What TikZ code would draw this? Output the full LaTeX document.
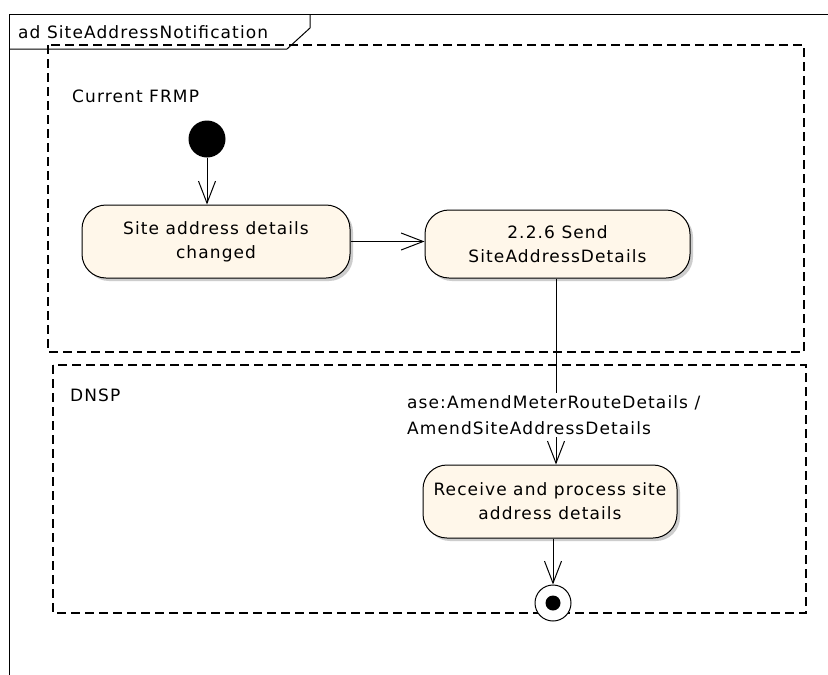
\documentclass[tikz,border=0pt]{standalone}
\usepackage{fontspec}
\setmainfont{DejaVu Sans}[LetterSpace=6.5]
\usetikzlibrary{arrows.meta,shadows}
\definecolor{actfill}{RGB}{255,247,234}
\definecolor{shadowgray}{RGB}{185,185,185}
\tikzset{
  every node/.style={font=\fontsize{17}{24}\selectfont},
  action/.style={draw=black, line width=1pt, fill=actfill, rectangle, rounded corners=24pt,
    align=center, inner sep=0pt,
    drop shadow={shadow xshift=3pt, shadow yshift=-3pt, fill=shadowgray, opacity=0.7}},
  flow/.style={draw=black, line width=1pt, -{Straight Barb[length=22pt,width=17pt,line width=1pt]}},
  partition/.style={draw=black, line width=1.2pt, dash pattern=on 9pt off 5pt},
  plain/.style={inner sep=0pt, anchor=west},
}
\begin{document}
\begin{tikzpicture}[x=1pt,y=-1pt]
\useasboundingbox (0,0) rectangle (828,675);
\fill[white] (0,0) rectangle (828,675);
% outer frame
\draw[line width=1pt] (828,14) -- (9,14) -- (9,675);
\draw[line width=1pt] (9,49) -- (287,49) -- (310,28) -- (310,14);
\node[plain] (title) at (18,32) {ad SiteAddressNotification};
% partitions
\draw[partition] (48,45) rectangle (804,352);
\draw[partition] (53,365) rectangle (806,613);
\node[plain] (frmp) at (72,96) {Current FRMP};
\node[plain] (dnsp) at (70,395) {DNSP};
% nodes
\node[circle, fill=black, minimum size=37pt, inner sep=0pt] (init) at (207,139) {};
\node[action, minimum width=268pt, minimum height=73pt] (act1) at (216,241.5) {Site address details\\changed};
\node[action, minimum width=265pt, minimum height=68pt] (act2) at (557.5,244) {2.2.6 Send\\SiteAddressDetails};
\node[action, minimum width=254pt, minimum height=73pt] (act3) at (550,501.5) {Receive and process site\\address details};
\node[circle, draw=black, line width=1pt, fill=white, minimum size=36pt, inner sep=0pt] (final) at (553,603) {};
\node[circle, fill=black, minimum size=15pt, inner sep=0pt] (finaldot) at (final.center) {};
% edges
\draw[flow] (init) -- (init |- act1.north);
\draw[flow] (act1.east) -- (act1.east -| act2.west);
\draw[flow] (act2.south -| 556,0) -- (act3.north -| 556,0);
\draw[flow] (act3.south -| final.north) -- (final.north);
\node[plain, align=left, fill=white, inner sep=2pt, font=\fontsize{17}{26}\selectfont] (lbl) at (405,415) {ase:AmendMeterRouteDetails /\\AmendSiteAddressDetails};
\end{tikzpicture}
\end{document}
